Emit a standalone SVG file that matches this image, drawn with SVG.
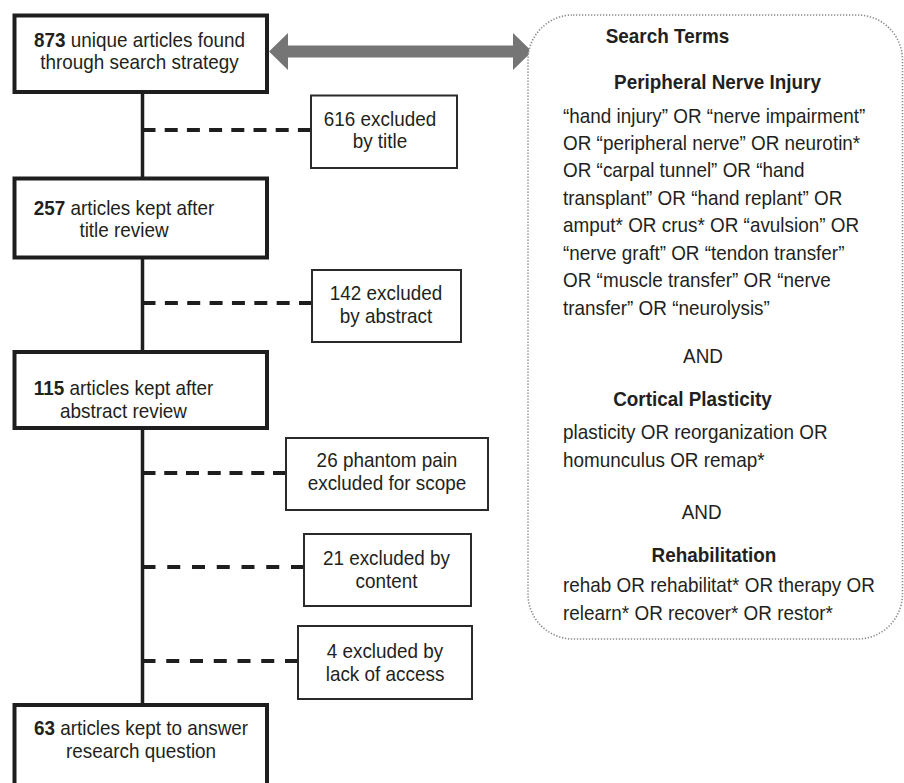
<svg xmlns="http://www.w3.org/2000/svg" width="904" height="783" viewBox="0 0 904 783">
<style>
text{font-family:"Liberation Sans",Arial,sans-serif;font-size:21px;fill:#231f20;transform:scale(0.9,1);}
.c{text-anchor:middle;}
.b{font-weight:bold;}
.main{fill:#fff;stroke:#1e1e1e;stroke-width:4;}
.side{fill:#fff;stroke:#2a2a2a;stroke-width:2;}
.trunk{stroke:#1e1e1e;stroke-width:3.5;fill:none;}
.dash{stroke:#1e1e1e;stroke-width:4;fill:none;}
.terms{fill:#fff;stroke:#8a8a8a;stroke-width:1.6;stroke-dasharray:1.3 1.7;}
</style>
<rect width="904" height="783" fill="#fff"/>
<g id="connectors">
  <line class="trunk" x1="142.5" y1="93" x2="142.5" y2="705"/>
  <line class="dash" x1="142.5" y1="130" x2="311" y2="130" stroke-dasharray="13 9.2"/>
  <line class="dash" x1="142.5" y1="303" x2="312" y2="303" stroke-dasharray="13 9.36"/>
  <line class="dash" x1="142.5" y1="473" x2="286" y2="473" stroke-dasharray="13 8.75"/>
  <line class="dash" x1="142.5" y1="567" x2="304" y2="567" stroke-dasharray="13 11.75"/>
  <line class="dash" x1="142.5" y1="661" x2="298" y2="661" stroke-dasharray="13 10.75"/>
  <polygon fill="#757575" points="269,51.5 288,33 288,45.5 513,45.5 513,33 532,51.5 513,70 513,57.5 288,57.5 288,70"/>
</g>
<g id="n873">
  <rect class="main" x="14.5" y="15.5" width="252.5" height="76.5"/>
  <text class="c" x="155" y="47.5"><tspan class="b">873</tspan> unique articles found</text>
  <text class="c" x="155" y="69">through search strategy</text>
</g>
<g id="n616">
  <rect class="side" x="311" y="95.5" width="146" height="72.5"/>
  <text class="c" x="422.2" y="126.5">616 excluded</text>
  <text class="c" x="422.2" y="148.5">by title</text>
</g>
<g id="n257">
  <rect class="main" x="14.5" y="178.5" width="252.5" height="79"/>
  <text class="c" x="137.8" y="215"><tspan class="b">257</tspan> articles kept after</text>
  <text class="c" x="137.8" y="237">title review</text>
</g>
<g id="n142">
  <rect class="side" x="312" y="270" width="149" height="72"/>
  <text class="c" x="428.9" y="300">142 excluded</text>
  <text class="c" x="428.9" y="323">by abstract</text>
</g>
<g id="n115">
  <rect class="main" x="14.5" y="352" width="252.5" height="76"/>
  <text class="c" x="137.2" y="395"><tspan class="b">115</tspan> articles kept after</text>
  <text class="c" x="137.2" y="418">abstract review</text>
</g>
<g id="n26">
  <rect class="side" x="286" y="438" width="202" height="72"/>
  <text class="c" x="430" y="467">26 phantom pain</text>
  <text class="c" x="430" y="490">excluded for scope</text>
</g>
<g id="n21">
  <rect class="side" x="304" y="534" width="167" height="72"/>
  <text class="c" x="429.4" y="565">21 excluded by</text>
  <text class="c" x="429.4" y="588">content</text>
</g>
<g id="n4">
  <rect class="side" x="298" y="626" width="174" height="73"/>
  <text class="c" x="427.8" y="658">4 excluded by</text>
  <text class="c" x="427.8" y="681">lack of access</text>
</g>
<g id="n63">
  <rect class="main" x="14.5" y="705" width="252.5" height="100"/>
  <text class="c" x="156.7" y="735"><tspan class="b">63</tspan> articles kept to answer</text>
  <text class="c" x="156.7" y="758">research question</text>
</g>
<g id="searchTerms">
  <rect class="terms" x="528" y="15" width="374.5" height="624" rx="45" ry="45"/>
  <text class="c b" x="741.7" y="43.3">Search Terms</text>
  <text class="c b" x="797.2" y="89.3">Peripheral Nerve Injury</text>
  <text x="625.6" y="122.7">“hand injury” OR “nerve impairment”</text>
  <text x="625.6" y="150">OR “peripheral nerve” OR neurotin*</text>
  <text x="625.6" y="177.5">OR “carpal tunnel” OR “hand</text>
  <text x="625.6" y="205">transplant” OR “hand replant” OR</text>
  <text x="625.6" y="232.3">amput* OR crus* OR “avulsion” OR</text>
  <text x="625.6" y="260">“nerve graft” OR “tendon transfer”</text>
  <text x="625.6" y="287.3">OR “muscle transfer” OR “nerve</text>
  <text x="625.6" y="315">transfer” OR “neurolysis”</text>
  <text class="c" x="781.1" y="363">AND</text>
  <text class="c b" x="769.4" y="406">Cortical Plasticity</text>
  <text x="625.6" y="439.3">plasticity OR reorganization OR</text>
  <text x="625.6" y="466.7">homunculus OR remap*</text>
  <text class="c" x="779.6" y="519">AND</text>
  <text class="c b" x="793.3" y="562">Rehabilitation</text>
  <text x="625.6" y="592.5">rehab OR rehabilitat* OR therapy OR</text>
  <text x="625.6" y="620">relearn* OR recover* OR restor*</text>
</g>
</svg>
